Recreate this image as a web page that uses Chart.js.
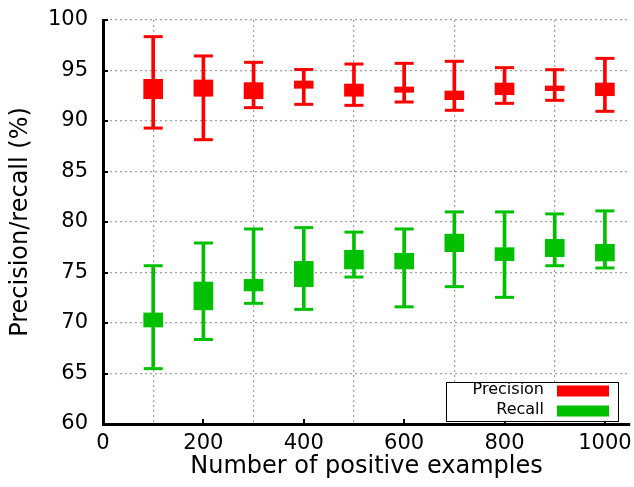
<!DOCTYPE html>
<html>
<head>
<meta charset="utf-8">
<script src="https://cdn.jsdelivr.net/npm/chart.js@4/dist/chart.umd.min.js"></script>
<style>
  html, body { margin: 0; padding: 0; background: #fff; }
  #wrap { width: 634px; height: 487px; position: relative; }
</style>
</head>
<body>
<div id="wrap"><canvas id="c" width="634" height="487"></canvas></div>
<script>
// ---- data ----
const xValues = [100, 200, 300, 400, 500, 600, 700, 800, 900, 1000];
const xTicks = [0, 200, 400, 600, 800, 1000];
const yTicks = [60, 65, 70, 75, 80, 85, 90, 95, 100];
const seriesNames = ['Precision', 'Recall'];

const precisionMin     = [89.3, 88.15, 91.32, 91.65, 91.55, 91.88, 91.06, 91.75, 92.05, 90.96];
const precisionBoxLow  = [92.2, 92.45, 92.2, 93.24, 92.45, 92.84, 92.11, 92.6, 93.0, 92.5];
const precisionBoxHigh = [94.13, 94.06, 93.8, 93.96, 93.66, 93.37, 92.97, 93.76, 93.47, 93.76];
const precisionMax     = [98.35, 96.44, 95.81, 95.1, 95.64, 95.71, 95.91, 95.28, 95.08, 96.2];

const recallMin     = [65.48, 68.37, 71.95, 71.35, 74.55, 71.6, 73.6, 72.54, 75.67, 75.45];
const recallBoxLow  = [69.6, 71.3, 73.17, 73.6, 75.35, 75.35, 77.06, 76.17, 76.57, 76.14];
const recallBoxHigh = [71.0, 74.06, 74.32, 76.1, 77.2, 76.9, 78.8, 77.46, 78.28, 77.79];
const recallMax     = [75.67, 77.92, 79.31, 79.44, 79.0, 79.31, 81.0, 81.0, 80.8, 81.1];

const RED = '#ff0000';
const GREEN = '#00c000';
const FONT = "'DejaVu Sans', sans-serif";

function ranges(lo, hi) { return xValues.map((x, i) => ({ x: x, y: [lo[i], hi[i]] })); }
function caps(lo, hi) {
  return xValues.map((x, i) => ({ x: x, y: hi[i] })).concat(xValues.map((x, i) => ({ x: x, y: lo[i] })));
}

function seriesDatasets(name, color, mn, bl, bh, mx) {
  return [
    { type: 'bar', label: name, data: ranges(mn, mx), backgroundColor: color, barThickness: 3, grouped: false, borderWidth: 0 },
    { type: 'bar', label: name, data: ranges(bl, bh), backgroundColor: color, barThickness: 19, grouped: false, borderWidth: 0 },
    { type: 'scatter', label: name, data: caps(mn, mx), pointStyle: 'line', radius: 9.5, borderWidth: 3,
      borderColor: color, backgroundColor: color, hoverRadius: 9.5 }
  ];
}

const boxLegend = {
  id: 'boxLegend',
  afterDraw(chart) {
    const ctx = chart.ctx;
    ctx.save();
    // inward ticks
    const xs = chart.scales.x, ys = chart.scales.y;
    const ca = chart.chartArea;
    ctx.strokeStyle = '#000';
    ctx.lineWidth = 2;
    ctx.beginPath();
    xTicks.forEach(v => { const px = Math.round(xs.getPixelForValue(v)); ctx.moveTo(px, ca.bottom); ctx.lineTo(px, ca.bottom - 5); });
    yTicks.forEach(v => { const py = Math.round(ys.getPixelForValue(v)); ctx.moveTo(ca.left, py); ctx.lineTo(ca.left + 5, py); });
    ctx.stroke();
    // legend box
    const bx = 446, by = 382, bw = 172, bh = 39;
    ctx.fillStyle = '#fff';
    ctx.fillRect(bx, by, bw, bh);
    ctx.strokeStyle = '#000';
    ctx.lineWidth = 1;
    ctx.strokeRect(bx + 0.5, by + 0.5, bw, bh);
    const colors = [RED, GREEN];
    ctx.font = '16px ' + FONT;
    ctx.textAlign = 'right';
    ctx.textBaseline = 'middle';
    seriesNames.forEach((n, i) => {
      const cy = 391 + i * 20;
      ctx.fillStyle = '#000';
      ctx.fillText(n, 544, cy - 1);
      ctx.fillStyle = colors[i];
      ctx.fillRect(557, cy - 5.5, 52, 11);
    });
    ctx.restore();
  }
};

new Chart(document.getElementById('c'), {
  type: 'bar',
  data: {
    datasets: [
      ...seriesDatasets(seriesNames[0], RED, precisionMin, precisionBoxLow, precisionBoxHigh, precisionMax),
      ...seriesDatasets(seriesNames[1], GREEN, recallMin, recallBoxLow, recallBoxHigh, recallMax)
    ]
  },
  options: {
    responsive: false,
    animation: false,
    events: [],
    layout: { autoPadding: false, padding: { top: 20, right: 4, left: 0, bottom: 0 } },
    plugins: { legend: { display: false }, tooltip: { enabled: false } },
    scales: {
      x: {
        type: 'linear', min: 0, max: 1050, offset: false,
        afterBuildTicks(s) { s.ticks = xTicks.map(v => ({ value: v })); },
        afterFit(s) { s.height = 63; s.paddingLeft = 0; s.paddingRight = 0; },
        grid: { color: '#a0a0a0', lineWidth: 1.2, drawTicks: false },
        border: { color: '#000', width: 3, dash: [2, 3] },
        ticks: { font: { family: FONT, size: 21 }, color: '#000', padding: 7, maxRotation: 0, autoSkip: false,
                 callback: v => String(v) },
        title: { display: true, text: 'Number of positive examples', font: { family: FONT, size: 24 }, color: '#000', padding: { top: 0, bottom: 6 } }
      },
      y: {
        type: 'linear', min: 60, max: 100,
        afterBuildTicks(s) { s.ticks = yTicks.map(v => ({ value: v })); },
        afterFit(s) { s.width = 103; s.paddingTop = 0; s.paddingBottom = 0; },
        grid: { color: '#a0a0a0', lineWidth: 1.2, drawTicks: false },
        border: { color: '#000', width: 3, dash: [2, 3] },
        ticks: { font: { family: FONT, size: 21 }, color: '#000', padding: 15, callback: v => String(v) },
        title: { display: true, text: 'Precision/recall (%)', font: { family: FONT, size: 24 }, color: '#000', padding: { top: 6, bottom: 0 } }
      }
    }
  },
  plugins: [boxLegend]
});
</script>
</body>
</html>
